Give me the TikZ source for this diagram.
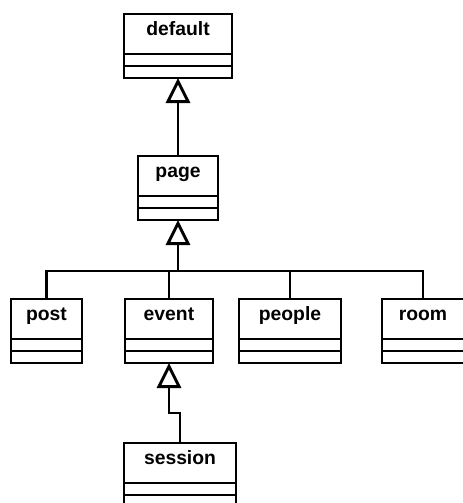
\documentclass[tikz,border=0pt]{standalone}
\usepackage{fontspec}
\setmainfont{Liberation Sans}
\usetikzlibrary{arrows.meta,positioning}

% one UML class: name, centre x, top y, width (px), label
\newcommand{\umlclass}[5]{%
  \node[cls, minimum width=#4*0.75pt] (#1) at (#2,#3) {#5};
  \node[clspart, minimum width=#4*0.75pt, below=0pt of #1] (#1-a) {};
  \node[clspart, minimum width=#4*0.75pt, below=0pt of #1-a] (#1-o) {};
}

\begin{document}
\begin{tikzpicture}[
    x=0.75pt, y=-0.75pt,
    line width=2.2pt,
    cls/.style={draw, anchor=north, inner sep=0pt, outer sep=0pt,
                minimum height=30pt, text height=16pt, text depth=14pt,
                font=\fontsize{14.5}{16}\selectfont\bfseries},
    clspart/.style={draw, inner sep=0pt, outer sep=0pt, minimum height=9pt},
    inherit/.style={-{Triangle[open, length=18.75pt, width=18pt]}},
    link/.style={line width=2.2pt},
  ]
  \useasboundingbox (0,0) rectangle (462,503);

  \umlclass{default}{178}{14}{108}{default}
  \umlclass{page}{178}{156}{80}{page}
  \umlclass{post}{46.5}{299}{71}{post}
  \umlclass{event}{169}{299}{88}{event}
  \umlclass{people}{290}{299}{102}{people}
  \umlclass{room}{423}{299}{82}{room}
  \umlclass{session}{180}{443}{112}{session}

  \coordinate (join) at (178,271);
  \coordinate (kink) at (169,413);

  \draw[inherit] (page.north) -- (default-o.south);
  \draw[inherit] (join) -- (page-o.south);
  \draw[link] (post.north) |- (join) -| (room.north);
  \draw[link] (event.north) -- (event.north |- join);
  \draw[link] (people.north) -- (people.north |- join);
  \draw[inherit] (session.north) |- (kink) -- (event-o.south);
\end{tikzpicture}
\end{document}
